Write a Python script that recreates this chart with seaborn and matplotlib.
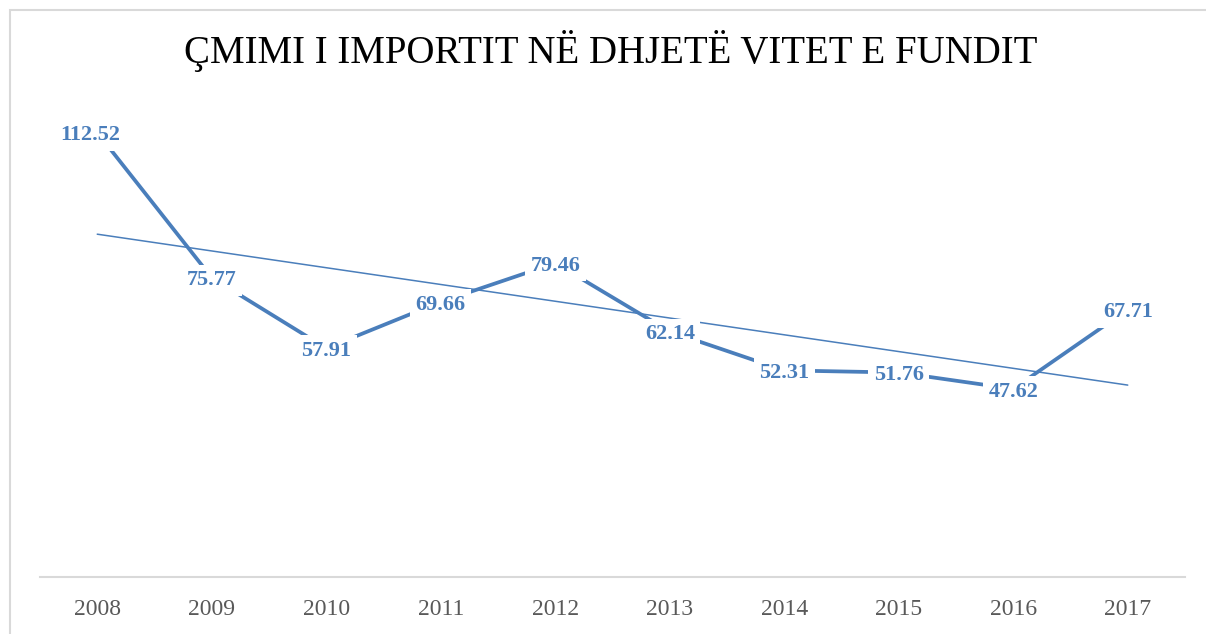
import numpy as np
import matplotlib
matplotlib.use('Agg')
import matplotlib.pyplot as plt
from matplotlib.patches import Rectangle
import seaborn as sns

years = ['2008', '2009', '2010', '2011', '2012', '2013', '2014', '2015', '2016', '2017']
prices = [112.52, 75.77, 57.91, 69.66, 79.46, 62.14, 52.31, 51.76, 47.62, 67.71]
title = 'ÇMIMI I IMPORTIT NË DHJETË VITET E FUNDIT'

BLUE = '#4a7ebb'

sns.set_theme(style='white')
plt.rcParams['font.family'] = ['Liberation Serif', 'DejaVu Serif']

fig = plt.figure(figsize=(12.06, 6.34), dpi=100)
ax = fig.add_axes([40 / 1206, 57 / 634, 1145 / 1206, 474 / 634])

idx = np.arange(len(years))

# trend line (linear fit)
sns.regplot(x=idx, y=prices, ax=ax, scatter=False, ci=None, truncate=True,
            line_kws=dict(color=BLUE, lw=1.1, zorder=1))
sns.lineplot(x=idx, y=prices, ax=ax, color=BLUE, lw=2.7, zorder=2)

for i, v in enumerate(prices):
    dx = -5 if i == 0 else 0
    ax.annotate(f'{v:.2f}', (i, v), xytext=(dx, -2), textcoords='offset points',
                ha='center', va='center', fontsize=16, fontweight='bold',
                color=BLUE, zorder=3,
                bbox=dict(facecolor='white', edgecolor='none', pad=4))

ax.set_xlim(-0.5, len(years) - 0.5)
ax.set_ylim(0, 120)
ax.set_xticks(idx)
ax.set_xticklabels(years, fontsize=17, color='#595959')
ax.set_yticks([])
ax.tick_params(axis='x', length=0, pad=16)
for s in ['top', 'right', 'left']:
    ax.spines[s].set_visible(False)
ax.spines['bottom'].set_color('#d9d9d9')
ax.spines['bottom'].set_linewidth(1.5)

fig.text(611 / 1206, 1 - 51 / 634, title, ha='center', va='center', fontsize=28, color='black')

# outer chart border
fig.patches.append(Rectangle((9.5 / 1206, -0.1), 1.2, 1 - 9.5 / 634 + 0.1,
                             transform=fig.transFigure, fill=False,
                             edgecolor='#d9d9d9', lw=1.5))

fig.savefig('out.png', dpi=100)
